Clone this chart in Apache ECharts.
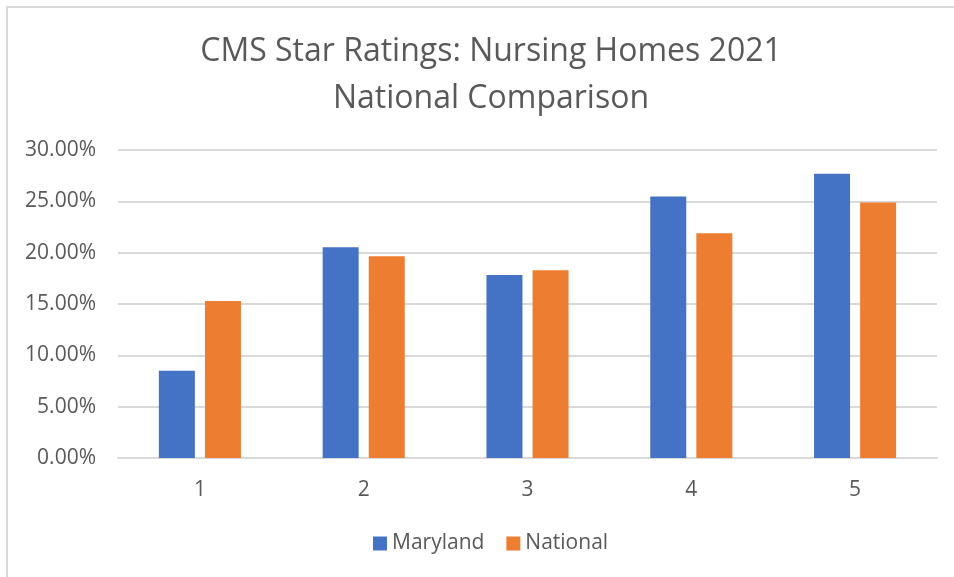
<!DOCTYPE html>
<html>
<head>
<meta charset="utf-8">
<script src="https://cdn.jsdelivr.net/npm/echarts@6/dist/echarts.min.js"></script>
<style>
  html, body { margin: 0; padding: 0; background: #fff; }
  #main { width: 954px; height: 577px; }
</style>
</head>
<body>
<div id="main"></div>
<script>
// star rating categories
var categories = ['1', '2', '3', '4', '5'];
// share of nursing homes per rating (%)
var maryland = [8.49, 20.53, 17.83, 25.47, 27.69];
var national = [15.29, 19.65, 18.29, 21.90, 24.89];
var yTicks = { min: 0, max: 30, interval: 5 };

var FONT = '"Open Sans", sans-serif';
var TXT = '#595959';

var chart = echarts.init(document.getElementById('main'));
chart.setOption({
  animation: false,
  textStyle: { fontFamily: FONT },
  // light frame on left and top edges
  graphic: [
    { type: 'line', shape: { x1: 7, y1: 6, x2: 7, y2: 577 }, style: { stroke: '#d9d9d9', lineWidth: 2 } },
    { type: 'line', shape: { x1: 6, y1: 7, x2: 954, y2: 7 }, style: { stroke: '#d9d9d9', lineWidth: 2 } }
  ],
  title: {
    text: 'CMS Star Ratings: Nursing Homes 2021\nNational Comparison',
    left: 486,
    top: 23,
    textAlign: 'center',
    textStyle: { fontFamily: FONT, fontWeight: 'normal', fontSize: 32, color: TXT, lineHeight: 47 }
  },
  legend: {
    bottom: 18,
    left: 368,
    itemWidth: 14,
    itemHeight: 14,
    itemGap: 22,
    icon: 'rect',
    textStyle: { fontFamily: FONT, fontSize: 21, color: TXT },
    data: ['Maryland', 'National']
  },
  grid: { left: 118, right: 17, top: 150, bottom: 119 },
  xAxis: {
    type: 'category',
    data: categories,
    axisLine: { lineStyle: { color: '#d9d9d9', width: 2 } },
    axisTick: { show: false },
    axisLabel: { fontFamily: FONT, fontSize: 21, color: TXT, margin: 22 }
  },
  yAxis: {
    type: 'value',
    min: yTicks.min,
    max: yTicks.max,
    interval: yTicks.interval,
    axisLine: { show: false },
    axisTick: { show: false },
    splitLine: { lineStyle: { color: '#d9d9d9', width: 2 } },
    axisLabel: {
      fontFamily: FONT, fontSize: 21, color: TXT, margin: 22,
      formatter: function (v) { return v.toFixed(2) + '%'; }
    }
  },
  series: [
    {
      name: 'Maryland',
      type: 'bar',
      data: maryland,
      barWidth: 36,
      barGap: '28%',
      itemStyle: { color: '#4472c4' }
    },
    {
      name: 'National',
      type: 'bar',
      data: national,
      barWidth: 36,
      itemStyle: { color: '#ed7d31' }
    }
  ]
});
</script>
</body>
</html>
